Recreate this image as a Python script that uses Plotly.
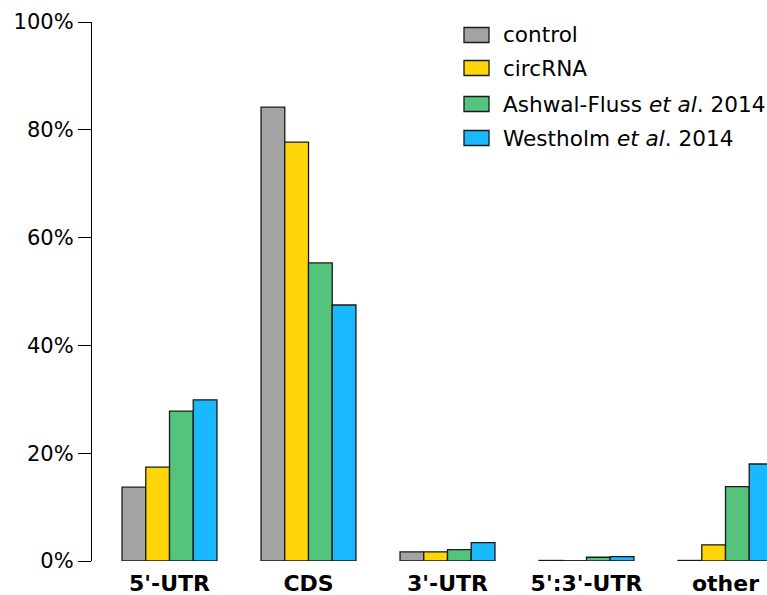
import plotly.graph_objects as go

categories = ["5'-UTR", "CDS", "3'-UTR", "5':3'-UTR", "other"]
series_names = ["control", "circRNA", "Ashwal-Fluss <i>et al</i>. 2014", "Westholm <i>et al</i>. 2014"]
control = [13.7, 84.2, 1.7, 0.1, 0.1]
circrna = [17.4, 77.7, 1.7, 0.05, 3.0]
ashwal = [27.8, 55.3, 2.1, 0.7, 13.8]
westholm = [29.9, 47.5, 3.4, 0.8, 18.0]
y_ticks = [0, 20, 40, 60, 80, 100]
y_tick_labels = ["0%", "20%", "40%", "60%", "80%", "100%"]

colors = ["#a3a3a3", "#ffd60a", "#54c47c", "#1ab8ff"]
values = [control, circrna, ashwal, westholm]

W, H = 767, 595
L, R, T, B = 92, 0, 22, 34
pw, ph = W - L - R, H - T - B

fig = go.Figure()
xs = list(range(len(categories)))
for name, vals, col in zip(series_names, values, colors):
    fig.add_trace(go.Bar(x=xs, y=vals, name=name,
                         marker=dict(color=col, line=dict(color="#1a1a1a", width=1.3)),
                         showlegend=False))

# manual legend (page pixel coords converted to paper coords)
font = "DejaVu Sans"
row_y = [35, 68, 104, 138]
def px_x(px):
    return (px - L) / pw
def px_y(py):
    return (H - B - py) / ph
for name, col, py in zip(series_names, colors, row_y):
    fig.add_shape(type="rect", xref="paper", yref="paper",
                  x0=px_x(464), x1=px_x(489),
                  y0=px_y(py + 7.5), y1=px_y(py - 7.5),
                  fillcolor=col, line=dict(color="#1a1a1a", width=1.3))
    fig.add_annotation(xref="paper", yref="paper", x=px_x(501), y=px_y(py),
                       text=name, showarrow=False, xanchor="left", yanchor="middle",
                       font=dict(family=font, size=21.6, color="black"))

fig.update_layout(
    width=W, height=H,
    margin=dict(l=L, r=R, t=T, b=B, pad=0),
    plot_bgcolor="white", paper_bgcolor="white",
    barmode="group", bargap=0.317, bargroupgap=0,
    font=dict(family=font, size=21, color="black"),
)
fig.update_xaxes(range=[-0.5576, 4.2986], tickvals=xs, ticktext=categories,
                 tickfont=dict(family=font, size=22, color="black", weight="bold"),
                 ticklabelstandoff=7,
                 showline=False, showgrid=False, zeroline=False, ticks="")
fig.update_yaxes(range=[0, 100], tickvals=y_ticks, ticktext=y_tick_labels,
                 showline=True, linecolor="black", linewidth=1.3,
                 ticks="outside", ticklen=13, tickwidth=1.3, tickcolor="black",
                 showgrid=False, zeroline=False,
                 tickfont=dict(family=font, size=21, color="black"))

fig.write_html("out.html", config={"displayModeBar": False},
               post_script="document.body.style.margin='0';document.body.style.overflow='hidden';")
